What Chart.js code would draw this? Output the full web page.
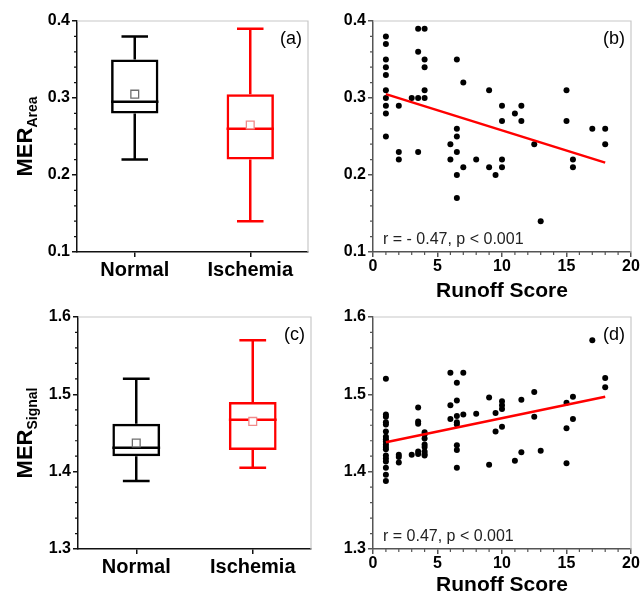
<!DOCTYPE html>
<html>
<head>
<meta charset="utf-8">
<script src="https://cdn.jsdelivr.net/npm/chart.js@4.4.0/dist/chart.umd.min.js"></script>
<style>
  body { margin: 0; background: #fff; }
  #wrap { position: relative; width: 642px; height: 599px; }
  canvas { position: absolute; }
</style>
</head>
<body>
<div id="wrap">
  <canvas id="chartA" width="325" height="300" style="left:0;top:0"></canvas>
  <canvas id="chartB" width="317" height="310" style="left:325px;top:0"></canvas>
  <canvas id="chartC" width="325" height="299" style="left:0;top:300px"></canvas>
  <canvas id="chartD" width="317" height="299" style="left:325px;top:300px"></canvas>
</div>
<script>
"use strict";

// groups for the box plots
const groups = ['Normal', 'Ischemia'];
const groupColors = ['#000000', '#ff0000'];
const meanColors = ['#6e6e6e', '#f08a8a'];

// MER Area box stats (Normal, Ischemia)
const areaMin = [0.22, 0.14];
const areaQ1 = [0.28, 0.22];
const areaMedian = [0.295, 0.26];
const areaQ3 = [0.35, 0.305];
const areaMax = [0.38, 0.39];
const areaMean = [0.305, 0.265];

// MER Signal box stats (Normal, Ischemia)
const signalMin = [1.388, 1.405];
const signalQ1 = [1.42, 1.428];
const signalMedian = [1.431, 1.467];
const signalQ3 = [1.462, 1.49];
const signalMax = [1.52, 1.57];
const signalMean = [1.437, 1.465];

// (b) runoff score vs MER Area
const runoffB = [1, 1, 1, 1, 1, 1, 1, 1, 1, 1, 2, 2, 2, 3, 3.5, 3.5, 3.5, 3.5,
  4, 4, 4, 4, 4, 6, 6, 6.5, 6.5, 6.5, 6.5, 6.5, 6.5, 7, 7, 8, 9, 9, 9.5,
  10, 10, 10, 10, 11, 11.5, 11.5, 12.5, 13, 15, 15, 15.5, 15.5, 17, 18, 18];
const merAreaB = [0.38, 0.37, 0.35, 0.34, 0.33, 0.31, 0.30, 0.29, 0.28, 0.25, 0.29, 0.23, 0.22, 0.30, 0.39, 0.36, 0.30, 0.23,
  0.39, 0.35, 0.34, 0.31, 0.30, 0.24, 0.22, 0.35, 0.26, 0.25, 0.23, 0.20, 0.17, 0.32, 0.21, 0.22, 0.31, 0.21, 0.20,
  0.29, 0.27, 0.22, 0.21, 0.28, 0.29, 0.27, 0.24, 0.14, 0.31, 0.27, 0.22, 0.21, 0.26, 0.26, 0.24];
const fitB = [[1, 0.305], [18, 0.216]];

// (d) runoff score vs MER Signal
const runoffD = [1, 1, 1, 1, 1, 1, 1, 1, 1, 1, 1, 1, 1, 1, 1, 1, 1, 1,
  2, 2, 2, 3, 3.5, 3.5, 3.5, 3.5, 3.5, 4, 4, 4, 4, 4, 4, 4, 4,
  6, 6, 6, 6.5, 6.5, 6.5, 6.5, 6.5, 6.5, 6.5, 6.5, 7, 7, 8, 9, 9, 9.5, 9.5,
  10, 10, 10, 10, 11, 11.5, 11.5, 12.5, 12.5, 13, 15, 15, 15, 15.5, 15.5, 17, 18, 18];
const merSignalD = [1.520, 1.474, 1.471, 1.464, 1.461, 1.452, 1.445, 1.442, 1.439, 1.435, 1.432, 1.429, 1.421, 1.417, 1.413, 1.405, 1.396, 1.388,
  1.422, 1.419, 1.412, 1.422, 1.483, 1.465, 1.462, 1.426, 1.423, 1.451, 1.448, 1.443, 1.435, 1.432, 1.426, 1.423, 1.421,
  1.528, 1.486, 1.468, 1.515, 1.492, 1.472, 1.464, 1.461, 1.434, 1.428, 1.405, 1.528, 1.474, 1.475, 1.496, 1.409, 1.476, 1.452,
  1.491, 1.486, 1.481, 1.458, 1.414, 1.493, 1.425, 1.503, 1.471, 1.427, 1.489, 1.456, 1.411, 1.497, 1.468, 1.570, 1.521, 1.509];
const fitD = [[1, 1.438], [18, 1.497]];

const FONT = '"Liberation Sans", Arial, sans-serif';
Chart.defaults.font.family = FONT;
Chart.defaults.color = '#000';

// frame, box whiskers, minor ticks, titles and labels
const panelDeco = {
  id: 'panelDeco',
  beforeDatasetsDraw(chart, args, o) {
    const ctx = chart.ctx, a = chart.chartArea;
    ctx.save();
    ctx.strokeStyle = '#c8c8c8';
    ctx.lineWidth = 1.2;
    ctx.beginPath();
    ctx.moveTo(a.left, a.top);
    ctx.lineTo(a.right, a.top);
    ctx.lineTo(a.right, a.bottom);
    ctx.stroke();

    if (o.box) {
      const meta = chart.getDatasetMeta(1);
      const y = chart.scales.y;
      const py = v => y.getPixelForValue(v);
      o.box.min.forEach((mn, i) => {
        const el = meta.data[i];
        const x = el.x, w = el.width, cw = w * 0.56;
        ctx.strokeStyle = groupColors[i];
        ctx.lineWidth = 2.5;
        ctx.beginPath();
        ctx.moveTo(x - w / 2, py(o.box.median[i]));
        ctx.lineTo(x + w / 2, py(o.box.median[i]));
        ctx.moveTo(x, py(o.box.q3[i]));
        ctx.lineTo(x, py(o.box.max[i]));
        ctx.moveTo(x, py(o.box.q1[i]));
        ctx.lineTo(x, py(mn));
        ctx.moveTo(x - cw / 2, py(o.box.max[i]));
        ctx.lineTo(x + cw / 2, py(o.box.max[i]));
        ctx.moveTo(x - cw / 2, py(mn));
        ctx.lineTo(x + cw / 2, py(mn));
        ctx.stroke();
      });
    }
    ctx.restore();
  },
  afterDraw(chart, args, o) {
    const ctx = chart.ctx, a = chart.chartArea;
    ctx.save();

    // minor ticks
    ctx.strokeStyle = o.axisColor;
    ctx.lineWidth = 1.2;
    ctx.beginPath();
    const ys = chart.scales.y;
    let n = Math.round((ys.max - ys.min) / o.minorY);
    for (let i = 1; i < n; i++) {
      if (i % 5 === 0) continue;
      const p = ys.getPixelForValue(ys.min + i * o.minorY);
      ctx.moveTo(a.left - 3, p);
      ctx.lineTo(a.left, p);
    }
    if (o.minorX) {
      const xs = chart.scales.x;
      n = Math.round((xs.max - xs.min) / o.minorX);
      for (let i = 1; i < n; i++) {
        if (i % 5 === 0) continue;
        const p = xs.getPixelForValue(xs.min + i * o.minorX);
        ctx.moveTo(p, a.bottom);
        ctx.lineTo(p, a.bottom + 3);
      }
    }
    ctx.stroke();

    // y title with subscript
    if (o.yTitle) {
      ctx.fillStyle = '#000';
      ctx.font = 'bold 22px ' + FONT;
      const w1 = ctx.measureText(o.yTitle).width;
      ctx.font = 'bold 14px ' + FONT;
      const w2 = ctx.measureText(o.ySub).width;
      ctx.save();
      ctx.translate(32, (a.top + a.bottom) / 2);
      ctx.rotate(-Math.PI / 2);
      ctx.textAlign = 'left';
      ctx.textBaseline = 'alphabetic';
      ctx.font = 'bold 22px ' + FONT;
      ctx.fillText(o.yTitle, -(w1 + w2) / 2, 0);
      ctx.font = 'bold 14px ' + FONT;
      ctx.fillText(o.ySub, -(w1 + w2) / 2 + w1, 5);
      ctx.restore();
    }

    // panel tag
    ctx.fillStyle = '#000';
    ctx.font = '18px ' + FONT;
    ctx.textAlign = 'right';
    ctx.textBaseline = 'alphabetic';
    ctx.fillText(o.tag, a.right - 6, a.top + 23);

    // correlation note
    if (o.note) {
      ctx.fillStyle = '#222';
      ctx.font = '16px ' + FONT;
      ctx.textAlign = 'left';
      ctx.fillText(o.note, a.left + 10, a.bottom - 8);
    }
    ctx.restore();
  }
};

function boxChart(id, stats, yMin, yMax, area, deco) {
  const canvas = document.getElementById(id);
  const W = canvas.width, H = canvas.height;
  const axisColor = '#111';
  new Chart(canvas, {
    type: 'bar',
    data: {
      labels: groups,
      datasets: [{
        type: 'line',
        data: stats.mean,
        showLine: false,
        pointStyle: 'rect',
        pointRadius: 5.5,
        pointBorderWidth: 1.3,
        pointBorderColor: meanColors,
        pointBackgroundColor: '#ffffff',
        order: 0
      }, {
        type: 'bar',
        data: stats.q1.map((v, i) => [v, stats.q3[i]]),
        backgroundColor: 'rgba(0,0,0,0)',
        borderColor: groupColors,
        borderWidth: 2.5,
        borderSkipped: false,
        barPercentage: 0.41,
        categoryPercentage: 1,
        order: 1
      }]
    },
    options: {
      responsive: false,
      animation: false,
      layout: { padding: { left: 0, top: area.top, right: W - area.right, bottom: 0 } },
      plugins: {
        legend: { display: false },
        tooltip: { enabled: false },
        panelDeco: Object.assign({ box: stats, axisColor: axisColor, minorY: 0.02 }, deco)
      },
      scales: {
        x: {
          grid: { offset: false, drawOnChartArea: false, tickLength: 5, color: axisColor, lineWidth: 1.5 },
          border: { color: axisColor, width: 1.5 },
          ticks: { font: { size: 20, weight: 'bold' }, color: '#000', padding: 1 },
          afterFit: s => { s.height = H - area.bottom; }
        },
        y: {
          min: yMin,
          max: yMax,
          grid: { drawOnChartArea: false, tickLength: 5, color: axisColor, lineWidth: 1.5 },
          border: { color: axisColor, width: 1.5 },
          ticks: { stepSize: 0.1, callback: v => v.toFixed(1), font: { size: 16, weight: 'bold' }, color: '#000', padding: 2 },
          afterFit: s => { s.width = area.left; }
        }
      }
    },
    plugins: [panelDeco]
  });
}

function scatterChart(id, xs, ys, fit, yMin, yMax, area, titlePad, deco) {
  const canvas = document.getElementById(id);
  const W = canvas.width, H = canvas.height;
  const axisColor = '#555';
  new Chart(canvas, {
    type: 'scatter',
    data: {
      datasets: [{
        type: 'line',
        data: fit.map(p => ({ x: p[0], y: p[1] })),
        borderColor: '#ff0000',
        borderWidth: 2.5,
        pointRadius: 0,
        order: 0
      }, {
        data: xs.map((x, i) => ({ x: x, y: ys[i] })),
        pointRadius: 3,
        pointBorderWidth: 0,
        backgroundColor: '#000',
        borderColor: '#000',
        order: 1
      }]
    },
    options: {
      responsive: false,
      animation: false,
      layout: { padding: { left: 0, top: area.top, right: W - area.right, bottom: 0 } },
      plugins: {
        legend: { display: false },
        tooltip: { enabled: false },
        panelDeco: Object.assign({ axisColor: axisColor, minorY: 0.02, minorX: 1 }, deco)
      },
      scales: {
        x: {
          type: 'linear',
          min: 0,
          max: 20,
          grid: { drawOnChartArea: false, tickLength: 5, color: axisColor, lineWidth: 1.5 },
          border: { color: axisColor, width: 1.5 },
          ticks: { stepSize: 5, font: { size: 16, weight: 'bold' }, color: '#000', padding: 0 },
          title: { display: true, text: 'Runoff Score', font: { size: 21, weight: 'bold' }, color: '#000', padding: { top: 0, bottom: titlePad } },
          afterFit: s => { s.height = H - area.bottom; }
        },
        y: {
          min: yMin,
          max: yMax,
          grid: { drawOnChartArea: false, tickLength: 5, color: axisColor, lineWidth: 1.5 },
          border: { color: axisColor, width: 1.5 },
          ticks: { stepSize: 0.1, callback: v => v.toFixed(1), font: { size: 16, weight: 'bold' }, color: '#000', padding: 2 },
          afterFit: s => { s.width = area.left; }
        }
      }
    },
    plugins: [panelDeco]
  });
}

boxChart('chartA',
  { min: areaMin, q1: areaQ1, median: areaMedian, q3: areaQ3, max: areaMax, mean: areaMean },
  0.1, 0.4, { left: 77, right: 308, top: 21, bottom: 252 },
  { yTitle: 'MER', ySub: 'Area', tag: '(a)' });

scatterChart('chartB', runoffB, merAreaB, fitB, 0.1, 0.4,
  { left: 48, right: 306, top: 21, bottom: 252 }, 6.4,
  { tag: '(b)', note: 'r = - 0.47, p < 0.001' });

boxChart('chartC',
  { min: signalMin, q1: signalQ1, median: signalMedian, q3: signalQ3, max: signalMax, mean: signalMean },
  1.3, 1.6, { left: 78, right: 311, top: 17, bottom: 249 },
  { yTitle: 'MER', ySub: 'Signal', tag: '(c)' });

scatterChart('chartD', runoffD, merSignalD, fitD, 1.3, 1.6,
  { left: 48, right: 306, top: 17, bottom: 249 }, 1.4,
  { tag: '(d)', note: 'r = 0.47, p < 0.001' });
</script>
</body>
</html>
